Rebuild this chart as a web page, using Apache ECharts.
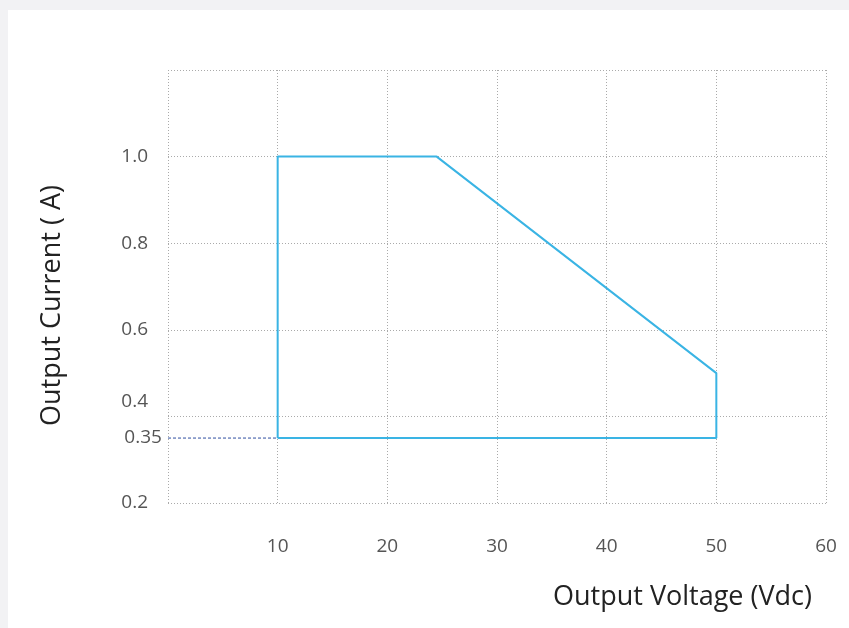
<!DOCTYPE html>
<html><head><meta charset="utf-8">
<script src="https://cdn.jsdelivr.net/npm/echarts@6/dist/echarts.min.js"></script>
<style>
html,body{margin:0;padding:0;background:#f2f2f4;}
#c{position:absolute;left:8px;top:10px;width:841px;height:618px;background:#fff;}
</style></head><body>
<div id="c"></div>
<script>
const boundaryPoints = [[10,0.35],[10,1.0],[24.5,1.0],[50,0.5],[50,0.35],[10,0.35]];
const dashedPoints = [[0,0.35],[10,0.35]];
const xTicks = [0,10,20,30,40,50,60];
const yTicks = [0.2,0.4,0.6,0.8,1.0,1.2];
const chart = echarts.init(document.getElementById('c'));
const font = 'Open Sans';
chart.setOption({
  animation:false,
  grid:{left:160,right:23,top:60,bottom:125},
  xAxis:{type:'value',min:0,max:60,interval:10,
    axisLine:{show:false},axisTick:{show:false},
    splitLine:{show:true,lineStyle:{color:'#aaa',type:[1,2]}},
    axisLabel:{margin:34,fontFamily:font,fontSize:19,color:'#555',
      formatter:v=>v===0?'':String(v)}},
  yAxis:{type:'value',min:0.2,max:1.2,interval:0.2,
    name:'Output Current ( A)',nameLocation:'middle',nameGap:102,
    nameTextStyle:{fontFamily:font,fontSize:27,color:'#222',padding:[0,0,0,-38]},
    axisLine:{show:false},axisTick:{show:false},
    splitLine:{show:true,lineStyle:{color:'#aaa',type:[1,2]}},
    axisLabel:{margin:20,fontFamily:font,fontSize:19,color:'#555',
      formatter:v=>{v=Math.round(v*10)/10; if(v===1.2) return ''; if(v===0.4) return '{up|0.4}'; return v.toFixed(1);},
      rich:{up:{fontFamily:font,fontSize:19,color:'#555',padding:[0,0,30,0]}}}},
  graphic:[{type:'text',right:37,top:574,style:{text:'Output Voltage (Vdc)',fontFamily:font,fontSize:27,fill:'#222'}}],
  series:[
    {type:'line',data:boundaryPoints,symbol:'none',lineStyle:{color:'#3ab4e4',width:2}},
    {type:'line',data:dashedPoints,showSymbol:true,symbol:'circle',symbolSize:0.1,
     lineStyle:{color:'#2f4fa0',width:1,type:[3,2]},
     label:{show:true,position:'left',distance:6,fontFamily:font,fontSize:19,color:'#555',
       formatter:p=>p.dataIndex===0?'0.35':''}}
  ]
});
</script></body></html>
